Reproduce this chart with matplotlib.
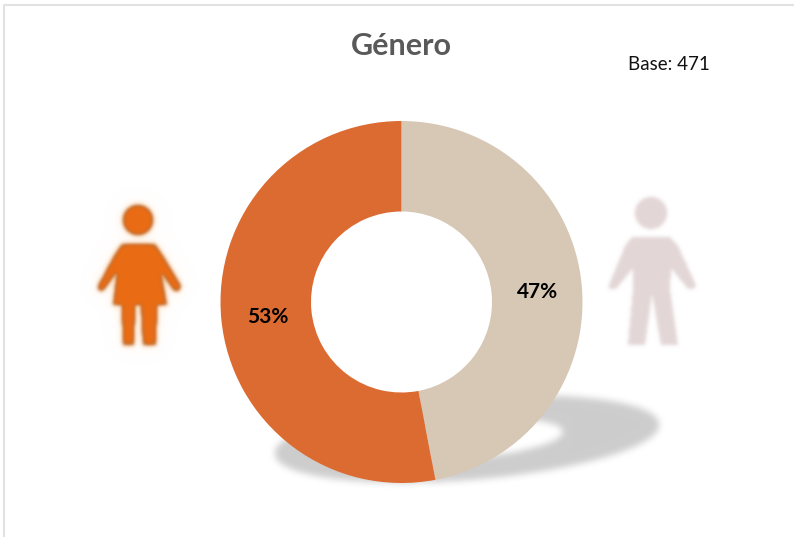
#!/usr/bin/env python3
"""Donut chart: Género, with two person icons and a soft shadow."""

import numpy as np
import matplotlib.pyplot as plt
from matplotlib.colors import to_rgb
from matplotlib.path import Path

plt.rcParams["font.family"] = ["Lato", "DejaVu Sans"]

W, H = 794, 537

categories = ["Hombre", "Mujer"]
shares = [47, 53]
colors = ["#D7C8B5", "#DC6B32"]
title = "Género"
base_note = "Base: 471"


def blur(img, sigma):
    """Separable gaussian blur, no scipy here."""
    r = int(3 * sigma) + 1
    k = np.exp(-0.5 * (np.arange(-r, r + 1) / sigma) ** 2)
    k /= k.sum()
    img = np.apply_along_axis(lambda m: np.convolve(m, k, mode="same"), 0, img)
    img = np.apply_along_axis(lambda m: np.convolve(m, k, mode="same"), 1, img)
    return img


def polygon_mask(xx, yy, verts):
    pts = np.column_stack([xx.ravel(), yy.ravel()])
    return Path(verts).contains_points(pts).reshape(xx.shape)


def put_rgba(ax, mask, color, alpha=1.0, zorder=1):
    rgba = np.zeros(mask.shape + (4,))
    rgba[..., :3] = to_rgb(color)
    rgba[..., 3] = np.clip(mask, 0, 1) * alpha
    ax.imshow(rgba, extent=(0, W, H, 0), interpolation="bilinear", zorder=zorder)


def main():
    fig = plt.figure(figsize=(W / 100, H / 100), dpi=100, facecolor="white")

    # pixel overlay for everything that is not the chart itself
    bg = fig.add_axes([0, 0, 1, 1])
    xx, yy = np.meshgrid(np.arange(W) + 0.5, np.arange(H) + 0.5)

    # shadow: tilted elliptical ring
    cx, cy = 467, 439
    t = np.deg2rad(-4.5)
    u = (xx - cx) * np.cos(t) + (yy - cy) * np.sin(t)
    v = -(xx - cx) * np.sin(t) + (yy - cy) * np.cos(t)
    outer = (u / 193) ** 2 + (v / 41) ** 2 <= 1
    inner = (u / 96) ** 2 + (v / 19) ** 2 <= 1
    put_rgba(bg, blur((outer & ~inner).astype(float), 3.5), "#000000", 0.2, zorder=1)

    # woman icon
    woman = np.hypot(xx - 138, yy - 220) <= 15
    woman |= polygon_mask(xx, yy, [
        (122, 244), (155, 244), (163, 256), (181, 286), (179, 291), (174, 291),
        (161, 272), (167, 305), (157, 305), (156, 345), (143, 345), (141, 305),
        (135, 305), (134, 345), (123, 345), (122, 305), (113, 305), (117, 272),
        (103, 291), (98, 290), (98, 286), (114, 256),
    ])
    soft = blur(woman.astype(float), 1.8)
    put_rgba(bg, blur(woman.astype(float), 9), "#FFF1DC", 0.45, zorder=2)
    put_rgba(bg, blur(woman.astype(float), 3.2), "#FFC58F", 0.9, zorder=2)
    put_rgba(bg, soft, "#B9672B", 1.0, zorder=2)
    put_rgba(bg, blur((soft > 0.8).astype(float), 1.5), "#EA6C14", 1.0, zorder=2)

    # man icon
    man = np.hypot(xx - 651, yy - 213) <= 16
    man |= polygon_mask(xx, yy, [
        (632, 237), (670, 237), (678, 246), (696, 285), (694, 289), (688, 289),
        (671, 268), (670, 290), (678, 345), (661, 345), (652, 293), (645, 345),
        (628, 345), (633, 290), (633, 268), (616, 289), (609, 289), (609, 285),
        (625, 246),
    ])
    put_rgba(bg, blur(man.astype(float), 1.8), "#E3D6D6", 1.0, zorder=2)

    # light frame of the chart area
    bg.plot([3.5, 3.5, W], [H, 4.5, 4.5], color="#E2E2E2", lw=1.5, zorder=3)

    bg.text(401.5, 46, title, ha="center", va="center", fontsize=22,
            fontweight="bold", color="#595959", zorder=5)
    bg.text(669, 64, base_note, ha="center", va="center", fontsize=13.5,
            color="#111111", zorder=5)

    bg.set_xlim(0, W)
    bg.set_ylim(H, 0)
    bg.axis("off")

    # donut, axes sized so that radius 1 is 181 px
    r_px = 181
    span = 1.05
    side = 2 * span * r_px
    ax = fig.add_axes([(401.5 - side / 2) / W, 1 - (302 + side / 2) / H, side / W, side / H])
    ax.patch.set_alpha(0)
    _, _, autotexts = ax.pie(
        shares,
        colors=colors,
        startangle=90,
        counterclock=False,
        radius=1,
        autopct="%.0f%%",
        pctdistance=0.75,
        wedgeprops=dict(width=0.5, linewidth=0),
    )
    for t_ in autotexts:
        t_.set_fontsize(15)
        t_.set_fontweight("bold")
        t_.set_color("black")
        x, y = t_.get_position()
        t_.set_position((x + 1 / r_px, y - 2.5 / r_px))
    ax.set_xlim(-span, span)
    ax.set_ylim(-span, span)

    fig.savefig("out.png", dpi=100)
    plt.close(fig)


if __name__ == "__main__":
    main()
